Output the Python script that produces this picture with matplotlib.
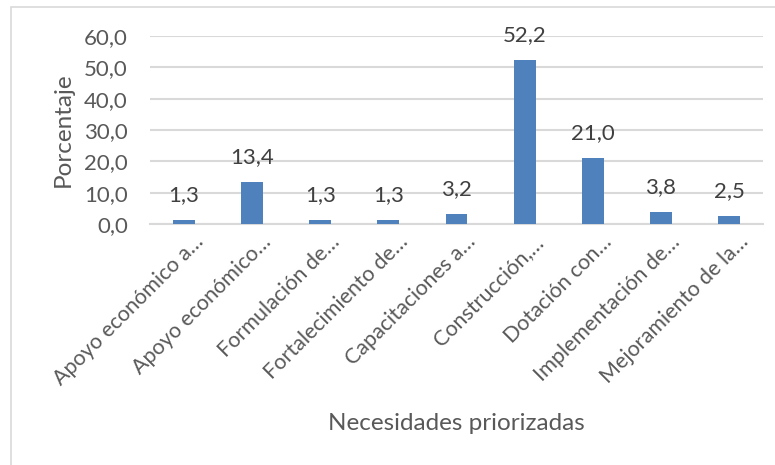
import matplotlib.pyplot as plt
from matplotlib.patches import Rectangle
import matplotlib.transforms as mtransforms

plt.rcParams['font.family'] = ['Lato', 'DejaVu Sans']

categorias = ["Apoyo económico a…", "Apoyo económico…", "Formulación de…",
              "Fortalecimiento de…", "Capacitaciones a…", "Construcción,…",
              "Dotación con…", "Implementación de…", "Mejoramiento de la…"]
porcentajes = [1.3, 13.4, 1.3, 1.3, 3.2, 52.2, 21.0, 3.8, 2.5]
yticks = [0, 10, 20, 30, 40, 50, 60]

W, H = 775, 465
fig = plt.figure(figsize=(W / 100, H / 100), dpi=100)
ax = fig.add_axes([150 / W, 1 - 224 / H, (763 - 150) / W, (224 - 36) / H])

# chart frame (cut off at right and bottom)
fig.patches.append(Rectangle((11 / W, -0.2), 1.2, 1 - 7 / H + 0.2,
                             transform=fig.transFigure, fill=False,
                             edgecolor='#D9D9D9', linewidth=1.2))

x = list(range(len(categorias)))
bars = ax.bar(x, porcentajes, width=0.32, color='#4F81BD', zorder=3)

for xi, v in zip(x, porcentajes):
    ax.annotate(f"{v:.1f}".replace('.', ','), (xi, v), xytext=(0, 11),
                textcoords='offset points', ha='center', va='bottom',
                fontsize=16, color='#404040')

ax.set_xlim(-0.5, len(categorias) - 0.5)
ax.set_ylim(0, 60)
ax.set_yticks(yticks)
ax.set_yticklabels([f"{t:.1f}".replace('.', ',') for t in yticks],
                   fontsize=16, color='#595959')
ax.yaxis.grid(True, color='#D9D9D9', linewidth=1.5, zorder=0)
ax.tick_params(axis='y', length=0, pad=16)
ax.tick_params(axis='x', length=0, pad=2)

ax.set_xticks(x)
ax.set_xticklabels(categorias, rotation=45, ha='right', va='top',
                   rotation_mode='anchor', fontsize=15.5, color='#595959')
offset = mtransforms.ScaledTranslation(9 / 100, -5 / 100, fig.dpi_scale_trans)
for lab in ax.get_xticklabels():
    lab.set_transform(lab.get_transform() + offset)

for s in ['top', 'right', 'left']:
    ax.spines[s].set_visible(False)
ax.spines['bottom'].set_color('#D9D9D9')
ax.spines['bottom'].set_linewidth(1.5)

fig.text(63 / W, 1 - 130 / H, "Porcentaje", rotation=90, ha='center', va='center',
         fontsize=17.5, color='#595959')
fig.text(456 / W, 1 - 423 / H, "Necesidades priorizadas", ha='center', va='center',
         fontsize=17.5, color='#595959')

fig.savefig('out.png', dpi=100)
